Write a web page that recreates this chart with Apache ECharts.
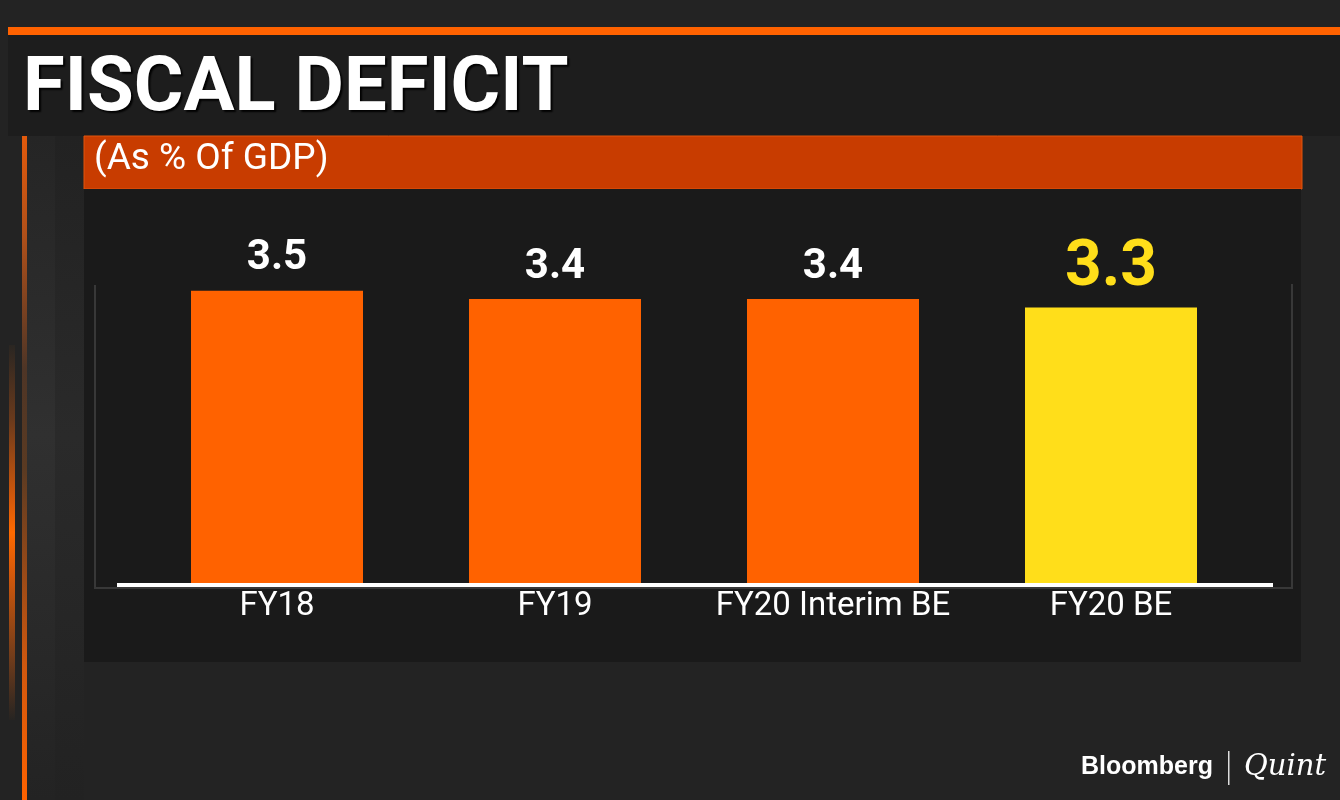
<!DOCTYPE html>
<html lang="en">
<head>
    <meta charset="UTF-8">
    <title>Fiscal Deficit</title>
    <style>
        html, body{
            height: 100%;
            margin: 0;
            padding: 0;
            background: #232323;
        }
        #main{
            width: 1340px;
            height: 800px;
        }
    </style>
</head>
<body>
<div id="main"></div>
<script src="https://cdn.jsdelivr.net/npm/echarts@6/dist/echarts.min.js"></script>
<script type="text/javascript">
    // data
    var categories = ['FY18', 'FY19', 'FY20 Interim BE', 'FY20 BE'];
    var deficitValues = [3.5, 3.4, 3.4, 3.3];
    var highlightIndex = 3; // last bar is yellow

    var ORANGE = '#ff6200';
    var YELLOW = '#ffde1a';
    var FONT = 'Roboto';

    var myChart = echarts.init(document.getElementById('main'));

    var barData = deficitValues.map(function (v, i) {
        if (i !== highlightIndex) {
            return v;
        }
        return {
            value: v,
            itemStyle: {color: YELLOW},
            label: {color: YELLOW, fontSize: 64, distance: 6}
        };
    });

    var option = {
        backgroundColor: '#232323',
        animation: false,
        title: [
            {
                text: 'FISCAL DEFICIT',
                left: 23,
                top: 53,
                padding: 0,
                textStyle: {
                    color: '#fff',
                    fontFamily: FONT,
                    fontWeight: 'bold',
                    fontSize: 76,
                    textShadowColor: '#000',
                    textShadowBlur: 2,
                    textShadowOffsetX: 2,
                    textShadowOffsetY: 2
                }
            },
            {
                text: '(As % Of GDP)',
                left: 94,
                top: 141,
                padding: 0,
                textStyle: {
                    color: '#fff',
                    fontFamily: FONT,
                    fontWeight: 'normal',
                    fontSize: 37
                }
            }
        ],
        grid: {
            left: 138,
            right: 90,
            top: 249,
            bottom: 217
        },
        xAxis: {
            type: 'category',
            data: categories,
            axisLine: {show: false},
            axisTick: {show: false},
            axisLabel: {
                interval: 0,
                color: '#fff',
                fontFamily: FONT,
                fontSize: 33,
                margin: 7
            }
        },
        yAxis: {
            type: 'value',
            min: 0,
            max: 4,
            show: false,
            splitLine: {show: false}
        },
        series: [
            {
                type: 'bar',
                data: barData,
                barWidth: 172,
                itemStyle: {color: ORANGE},
                label: {
                    show: true,
                    position: 'top',
                    distance: 11,
                    color: '#fff',
                    fontFamily: FONT,
                    fontWeight: 'bold',
                    fontSize: 42
                },
                z: 2
            }
        ],
        graphic: [
            // side column shading
            {
                type: 'rect', z: 0,
                shape: {x: 27, y: 136, width: 28, height: 664},
                style: {
                    fill: {
                        type: 'linear', x: 0, y: 0, x2: 0, y2: 1,
                        colorStops: [
                            {offset: 0, color: '#252525'},
                            {offset: 0.45, color: '#303030'},
                            {offset: 1, color: '#232323'}
                        ]
                    }
                }
            },
            {
                type: 'rect', z: 0,
                shape: {x: 55, y: 136, width: 29, height: 664},
                style: {
                    fill: {
                        type: 'linear', x: 0, y: 0, x2: 0, y2: 1,
                        colorStops: [
                            {offset: 0, color: '#222222'},
                            {offset: 0.45, color: '#2a2a2a'},
                            {offset: 1, color: '#222222'}
                        ]
                    }
                }
            },
            // top orange rule
            {
                type: 'rect', z: 0,
                shape: {x: 8, y: 27, width: 1332, height: 8},
                style: {fill: ORANGE}
            },
            // title panel
            {
                type: 'rect', z: 0,
                shape: {x: 8, y: 35, width: 1332, height: 101},
                style: {fill: '#1d1d1d'}
            },
            // vertical orange line
            {
                type: 'rect', z: 0,
                shape: {x: 22, y: 136, width: 5, height: 664},
                style: {
                    fill: {
                        type: 'linear', x: 0, y: 0, x2: 0, y2: 1,
                        colorStops: [
                            {offset: 0, color: '#e35a0c'},
                            {offset: 0.15, color: '#b0501a'},
                            {offset: 0.35, color: '#4e3526'},
                            {offset: 0.5, color: '#5a3a22'},
                            {offset: 0.8, color: '#d0580f'},
                            {offset: 1, color: '#ff6200'}
                        ]
                    }
                }
            },
            // glowing short line
            {
                type: 'rect', z: 0,
                shape: {x: 9, y: 345, width: 6, height: 375},
                style: {
                    fill: {
                        type: 'linear', x: 0, y: 0, x2: 0, y2: 1,
                        colorStops: [
                            {offset: 0, color: '#2a2622'},
                            {offset: 0.2, color: '#6a3a1c'},
                            {offset: 0.42, color: '#d85a0a'},
                            {offset: 0.5, color: '#ff6a00'},
                            {offset: 0.6, color: '#d85a0a'},
                            {offset: 0.85, color: '#6a3a1c'},
                            {offset: 1, color: '#262422'}
                        ]
                    }
                }
            },
            // subtitle bar
            {
                type: 'rect', z: 0,
                shape: {x: 84, y: 136, width: 1218, height: 53},
                style: {fill: '#c83c00', stroke: '#e2550c', lineWidth: 1}
            },
            // chart panel
            {
                type: 'rect', z: 0,
                shape: {x: 84, y: 189, width: 1217, height: 473},
                style: {fill: '#1a1a1a'}
            },
            // gray frame around plot
            {
                type: 'polyline', z: 1,
                shape: {points: [[95, 285], [95, 588], [1292, 588], [1292, 284]]},
                style: {stroke: '#383838', lineWidth: 2, fill: null}
            },
            // white baseline
            {
                type: 'rect', z: 3,
                shape: {x: 117, y: 583, width: 1156, height: 4},
                style: {fill: '#ffffff'}
            },
            // logo
            {
                type: 'text', z: 3,
                style: {
                    x: 1081, y: 767, text: 'Bloomberg',
                    fill: '#fff', font: 'bold 25px "Liberation Sans", Arial, sans-serif',
                    verticalAlign: 'middle'
                }
            },
            {
                type: 'rect', z: 3,
                shape: {x: 1228, y: 751, width: 1.5, height: 34},
                style: {fill: '#ddd'}
            },
            {
                type: 'text', z: 3,
                style: {
                    x: 1244, y: 767, text: 'Quint',
                    fill: '#fff', font: 'italic 29px "DejaVu Serif", "Liberation Serif", serif',
                    verticalAlign: 'middle'
                }
            }
        ]
    };

    myChart.setOption(option);
</script>
</body>
</html>
